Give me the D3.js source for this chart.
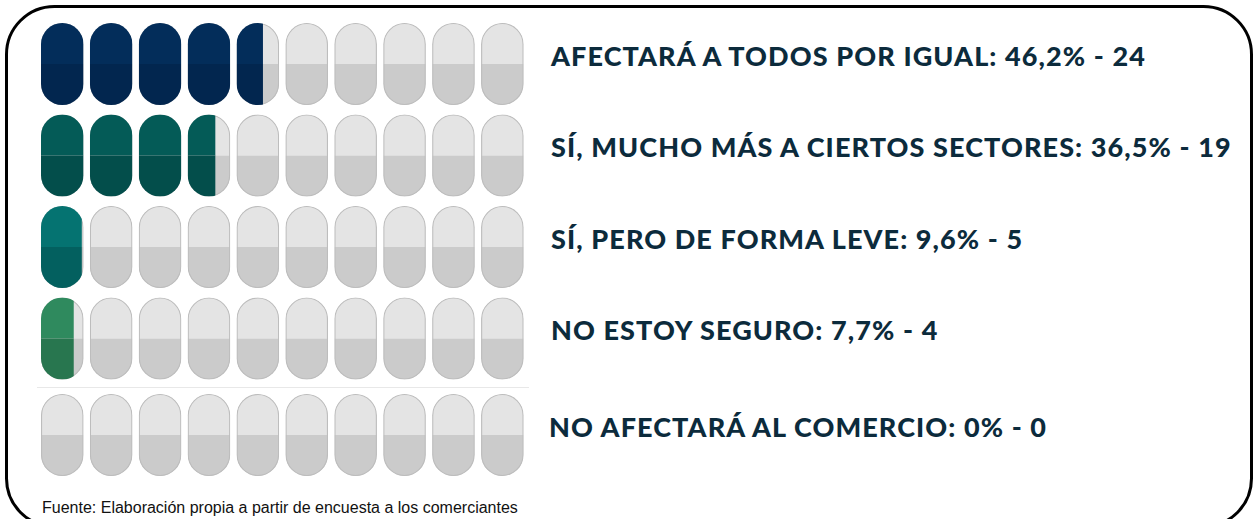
<!DOCTYPE html>
<html>
<head>
<meta charset="utf-8">
<script src="https://cdn.jsdelivr.net/npm/d3@7"></script>
<style>
  body { margin: 0; background: #fff; }
  svg { display: block; }
  .label { font-family: Lato, sans-serif; font-weight: 900; fill: #0c2b3c; letter-spacing: 1.1px; }
  .source { font-family: "Liberation Sans", Arial, sans-serif; fill: #111; }
</style>
</head>
<body>
<svg id="pills"></svg>
<script>
const width = 1255;
const height = 519;

/* DATA */
const categories = [
  "AFECTARÁ A TODOS POR IGUAL",
  "SÍ, MUCHO MÁS A CIERTOS SECTORES",
  "SÍ, PERO DE FORMA LEVE",
  "NO ESTOY SEGURO",
  "NO AFECTARÁ AL COMERCIO"
];
const percents = [46.2, 36.5, 9.6, 7.7, 0];
const counts = [24, 19, 5, 4, 0];
const percentLabels = ["46,2%", "36,5%", "9,6%", "7,7%", "0%"];
const pillSteps = d3.range(10);   // each pill = 10%
const source = "Fuente: Elaboración propia a partir de encuesta a los comerciantes";

const colors = [
  { top: "#032d5a", bottom: "#02264f" },
  { top: "#045b57", bottom: "#034e4b" },
  { top: "#057371", bottom: "#03605f" },
  { top: "#2f8a5e", bottom: "#28764f" },
  { top: "#2f8a5e", bottom: "#28764f" }
];
const grey = { top: "#e4e4e4", bottom: "#cbcbcb", stroke: "#bdbdbd" };

const pill = { w: 42.5, h: 82 };

const svg = d3.select("svg#pills").attr("width", width).attr("height", height);

/* SCALES */
const scales = {
  x: d3.scaleLinear().domain([0, 10]).range([41, 41 + 489]),
  y: d3.scaleLinear().domain([0, 4]).range([23, 389]),
  fill: d3.scaleLinear().domain([0, 1]).range([0, pill.w]).clamp(true)
};

function rowY(i) {
  // last row sits a little lower, under the separator
  return scales.y(i) + (i === 4 ? 5 : 0);
}

/* FRAME */
svg.append("rect")
  .attr("x", 6.5).attr("y", 6.5)
  .attr("width", 1245).attr("height", 520)
  .attr("rx", 48)
  .attr("fill", "none")
  .attr("stroke", "#000")
  .attr("stroke-width", 3);

/* CLIP SHAPE */
const defs = svg.append("defs");
defs.append("clipPath").attr("id", "pill-clip")
  .append("rect")
  .attr("width", pill.w).attr("height", pill.h)
  .attr("rx", pill.w / 2).attr("ry", pill.w / 2);

/* ROWS */
const rows = svg.selectAll("g.row")
  .data(categories)
  .enter()
  .append("g")
  .attr("class", "row")
  .attr("transform", (d, i) => translate(0, rowY(i)));

const pills = rows.selectAll("g.pill")
  .data((d, i) => pillSteps.map(k => ({ row: i, k: k, value: percents[i] / 10 - k })))
  .enter()
  .append("g")
  .attr("class", "pill")
  .attr("transform", d => translate(scales.x(d.k), 0));

const inner = pills.append("g").attr("clip-path", "url(#pill-clip)");

inner.append("rect")
  .attr("width", pill.w).attr("height", pill.h / 2)
  .attr("fill", grey.top);
inner.append("rect")
  .attr("y", pill.h / 2)
  .attr("width", pill.w).attr("height", pill.h / 2)
  .attr("fill", grey.bottom);

// thin outline of the empty pill, drawn under the coloured fill
inner.append("rect")
  .attr("x", 0.5).attr("y", 0.5)
  .attr("width", pill.w - 1).attr("height", pill.h - 1)
  .attr("rx", pill.w / 2 - 0.5).attr("ry", pill.w / 2 - 0.5)
  .attr("fill", "none")
  .attr("stroke", grey.stroke)
  .attr("stroke-width", 1.2);

const filled = inner.filter(d => d.value > 0);

filled.append("rect")
  .attr("width", d => scales.fill(d.value))
  .attr("height", pill.h / 2)
  .attr("fill", d => colors[d.row].top);
filled.append("rect")
  .attr("y", pill.h / 2)
  .attr("width", d => scales.fill(d.value))
  .attr("height", pill.h / 2)
  .attr("fill", d => colors[d.row].bottom);

/* SEPARATOR */
svg.append("line")
  .attr("x1", 37).attr("x2", 529)
  .attr("y1", 387.5).attr("y2", 387.5)
  .attr("stroke", "#e8e8e8")
  .attr("stroke-width", 1);

/* LABELS */
rows.append("text")
  .attr("class", "label")
  .attr("x", (d, i) => i === 4 ? 549 : 551)
  .attr("y", pill.h / 2 + 1.5)
  .attr("font-size", 27)
  .text((d, i) => d + ": " + percentLabels[i] + " - " + counts[i]);

/* SOURCE */
svg.append("text")
  .attr("class", "source")
  .attr("x", 42).attr("y", 513)
  .attr("font-size", 16)
  .text(source);

function translate(x, y) {
  return "translate(" + String(x) + "," + String(y) + ")";
}
</script>
</body>
</html>
